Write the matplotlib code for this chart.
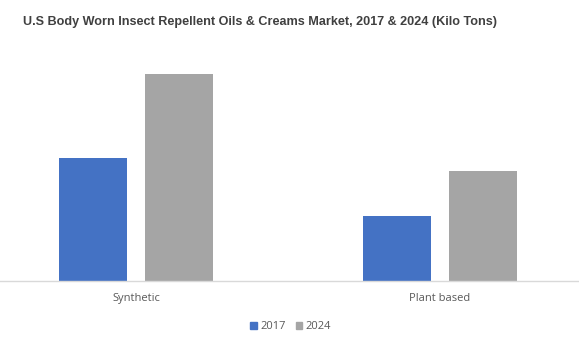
import numpy as np
from matplotlib import pyplot as plt
from matplotlib.patches import Patch

categories = ['Synthetic', 'Plant based']
values_2017 = [123, 65]
values_2024 = [207, 110]
series_labels = ['2017', '2024']

blue = '#4472C4'
gray = '#A5A5A5'

fig = plt.figure(figsize=(5.79, 3.6), dpi=100)
axes = fig.add_axes([0, 0.2203, 1, 0.6686])

x = np.arange(len(categories))
width = 0.224
axes.bar(x - 0.142, values_2017, width, color=blue, label=series_labels[0])
axes.bar(x + 0.142, values_2024, width, color=gray, label=series_labels[1])

axes.set_xlim(-0.448, 1.459)
axes.set_ylim(0, 240.7)
axes.set_yticks([])
axes.set_xticks(x)
axes.set_xticklabels(categories, fontsize=8, color='#595959', family='Open Sans')
axes.tick_params(axis='x', length=0, pad=9)
for side in ['top', 'left', 'right']:
    axes.spines[side].set_visible(False)
axes.spines['bottom'].set_color('#d9d9d9')
axes.spines['bottom'].set_linewidth(1)

fig.text(0.449, 0.940, 'U.S Body Worn Insect Repellent Oils & Creams Market, 2017 & 2024 (Kilo Tons)',
         ha='center', va='center', fontsize=9.1, fontweight='bold', color='#404040',
         family='Liberation Sans')

handles = [Patch(color=blue), Patch(color=gray)]
fig.legend(handles, series_labels, loc='center', bbox_to_anchor=(0.502, 0.092), ncol=2, frameon=False,
           prop={'family': 'Open Sans', 'size': 8}, labelcolor='#595959',
           handlelength=0.6, handleheight=0.6, handletextpad=0.3, columnspacing=0.9)

fig.savefig('out.png', dpi=100)
